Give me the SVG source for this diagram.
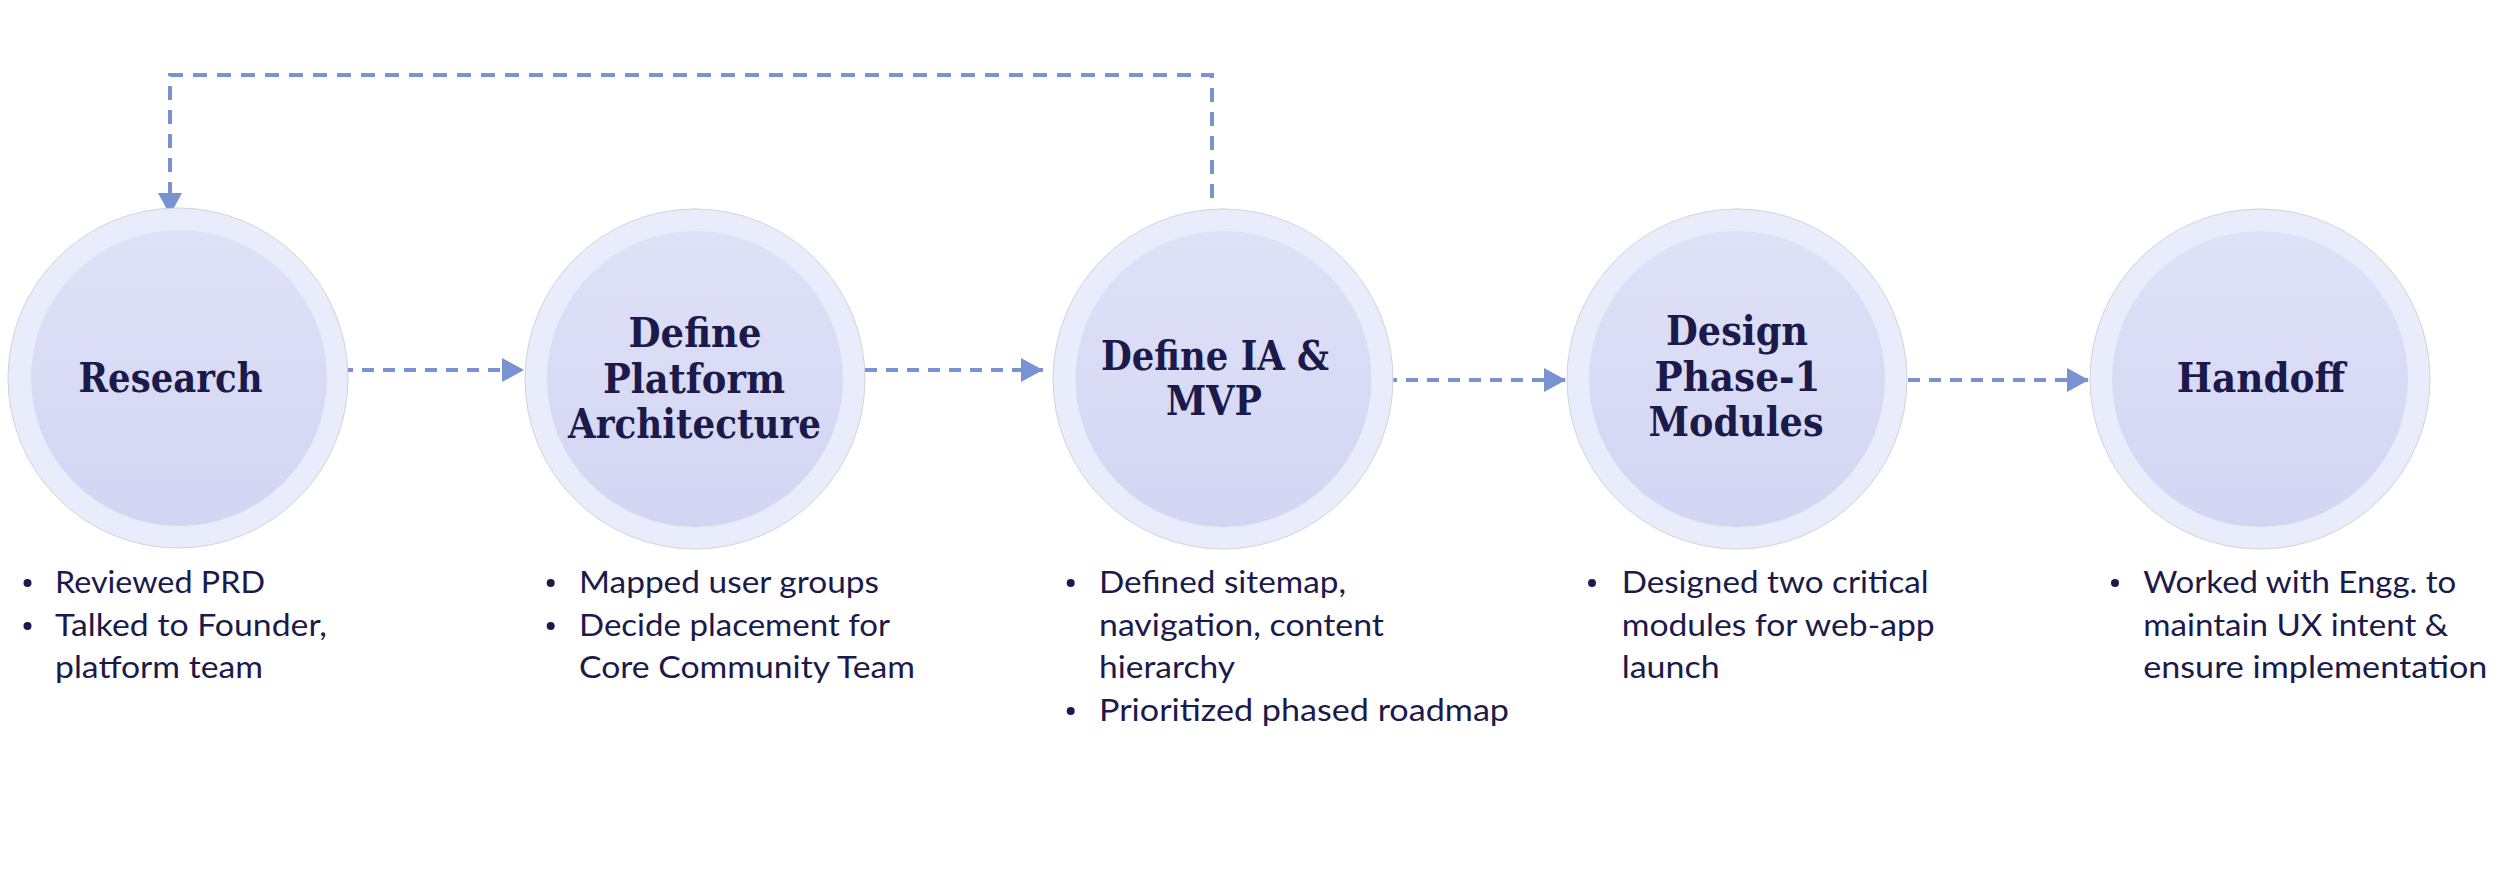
<svg xmlns="http://www.w3.org/2000/svg" width="2500" height="880" viewBox="0 0 2500 880">
  <defs>
    <linearGradient id="innerGrad" x1="0" y1="0" x2="0" y2="1">
      <stop offset="0" stop-color="#dfe1f7"/>
      <stop offset="1" stop-color="#d3d6f3"/>
    </linearGradient>
    <marker id="arrow" viewBox="0 0 22 24" refX="22" refY="12" markerWidth="22" markerHeight="24" markerUnits="userSpaceOnUse" orient="auto">
      <path d="M0,0 L22,12 L0,24 Z" fill="#7892d2"/>
    </marker>
  </defs>
  <style>
    .outer { fill: #e9edfb; stroke: #d2d2da; stroke-width: 1; }
    .inner { fill: url(#innerGrad); }
    .title { font-family: "DejaVu Serif", "Liberation Serif", serif; font-weight: bold; font-size: 41px; fill: #1c1a4b; text-anchor: middle; }
    .item { font-family: Lato, "Liberation Sans", sans-serif; font-size: 31px; fill: #1c1a4b; }
    .dot { fill: #1c1a4b; }
    .conn { fill: none; stroke: #7892d2; stroke-width: 4; stroke-dasharray: 12 9; }
    .loop { fill: none; stroke: #7892d2; stroke-width: 4; stroke-dasharray: 14 10; }
  </style>
  <rect width="2500" height="880" fill="#ffffff"/>

  <g id="connectors">
    <path class="loop" d="M1212,198 V75 H170 V215" marker-end="url(#arrow)"/>
    <line class="conn" x1="341" y1="370" x2="524" y2="370" marker-end="url(#arrow)"/>
    <line class="conn" x1="865" y1="370" x2="1043" y2="370" marker-end="url(#arrow)"/>
    <line class="conn" x1="1385" y1="380" x2="1566" y2="380" marker-end="url(#arrow)"/>
    <line class="conn" x1="1908" y1="380" x2="2089" y2="380" marker-end="url(#arrow)"/>
  </g>

  <g id="node-research">
    <circle class="outer" cx="178" cy="378" r="170"/>
    <circle class="inner" cx="179" cy="378" r="148"/>
    <text class="title" x="170.5" y="392" textLength="184" lengthAdjust="spacingAndGlyphs">Research</text>
    <circle class="dot" cx="27.5" cy="583" r="4"/>
    <circle class="dot" cx="27.5" cy="626" r="4"/>
    <text class="item" x="55" y="593" textLength="210" lengthAdjust="spacingAndGlyphs">Reviewed PRD</text>
    <text class="item" x="55" y="636" textLength="272" lengthAdjust="spacingAndGlyphs">Talked to Founder,</text>
    <text class="item" x="55" y="678" textLength="208" lengthAdjust="spacingAndGlyphs">platform team</text>
  </g>

  <g id="node-platform">
    <circle class="outer" cx="695" cy="379" r="170"/>
    <circle class="inner" cx="695" cy="379" r="148"/>
    <text class="title" x="695" y="347" textLength="133" lengthAdjust="spacingAndGlyphs">Define</text>
    <text class="title" x="694" y="393" textLength="182" lengthAdjust="spacingAndGlyphs">Platform</text>
    <text class="title" x="694.5" y="438" textLength="253" lengthAdjust="spacingAndGlyphs">Architecture</text>
    <circle class="dot" cx="550.7" cy="583" r="4"/>
    <circle class="dot" cx="550.7" cy="626" r="4"/>
    <text class="item" x="579" y="593" textLength="300" lengthAdjust="spacingAndGlyphs">Mapped user groups</text>
    <text class="item" x="579" y="636" textLength="311" lengthAdjust="spacingAndGlyphs">Decide placement for</text>
    <text class="item" x="579" y="678" textLength="336" lengthAdjust="spacingAndGlyphs">Core Community Team</text>
  </g>

  <g id="node-ia-mvp">
    <circle class="outer" cx="1223" cy="379" r="170"/>
    <circle class="inner" cx="1223.5" cy="379" r="148"/>
    <text class="title" x="1215" y="370" textLength="228" lengthAdjust="spacingAndGlyphs">Define IA &amp;</text>
    <text class="title" x="1214" y="415" textLength="96" lengthAdjust="spacingAndGlyphs">MVP</text>
    <circle class="dot" cx="1070.7" cy="583" r="4"/>
    <circle class="dot" cx="1070.7" cy="711" r="4"/>
    <text class="item" x="1099" y="593" textLength="247" lengthAdjust="spacingAndGlyphs">Defined sitemap,</text>
    <text class="item" x="1099" y="636" textLength="285" lengthAdjust="spacingAndGlyphs">navigation, content</text>
    <text class="item" x="1099" y="678" textLength="136" lengthAdjust="spacingAndGlyphs">hierarchy</text>
    <text class="item" x="1099" y="721" textLength="410" lengthAdjust="spacingAndGlyphs">Prioritized phased roadmap</text>
  </g>

  <g id="node-design">
    <circle class="outer" cx="1737" cy="379" r="170"/>
    <circle class="inner" cx="1737" cy="379" r="148"/>
    <text class="title" x="1737" y="345" textLength="142" lengthAdjust="spacingAndGlyphs">Design</text>
    <text class="title" x="1737.5" y="391" textLength="166" lengthAdjust="spacingAndGlyphs">Phase-1</text>
    <text class="title" x="1736" y="436" textLength="175" lengthAdjust="spacingAndGlyphs">Modules</text>
    <circle class="dot" cx="1592" cy="583" r="4"/>
    <text class="item" x="1621.7" y="593" textLength="307" lengthAdjust="spacingAndGlyphs">Designed two critical</text>
    <text class="item" x="1621.7" y="636" textLength="313" lengthAdjust="spacingAndGlyphs">modules for web-app</text>
    <text class="item" x="1621.7" y="678" textLength="98" lengthAdjust="spacingAndGlyphs">launch</text>
  </g>

  <g id="node-handoff">
    <circle class="outer" cx="2260" cy="379" r="170"/>
    <circle class="inner" cx="2260" cy="379" r="148"/>
    <text class="title" x="2261" y="392" textLength="168.5" lengthAdjust="spacingAndGlyphs">Handoff</text>
    <circle class="dot" cx="2115" cy="583" r="4"/>
    <text class="item" x="2143.3" y="593" textLength="313" lengthAdjust="spacingAndGlyphs">Worked with Engg. to</text>
    <text class="item" x="2143.3" y="636" textLength="305" lengthAdjust="spacingAndGlyphs">maintain UX intent &amp;</text>
    <text class="item" x="2143.3" y="678" textLength="344" lengthAdjust="spacingAndGlyphs">ensure implementation</text>
  </g>
</svg>
